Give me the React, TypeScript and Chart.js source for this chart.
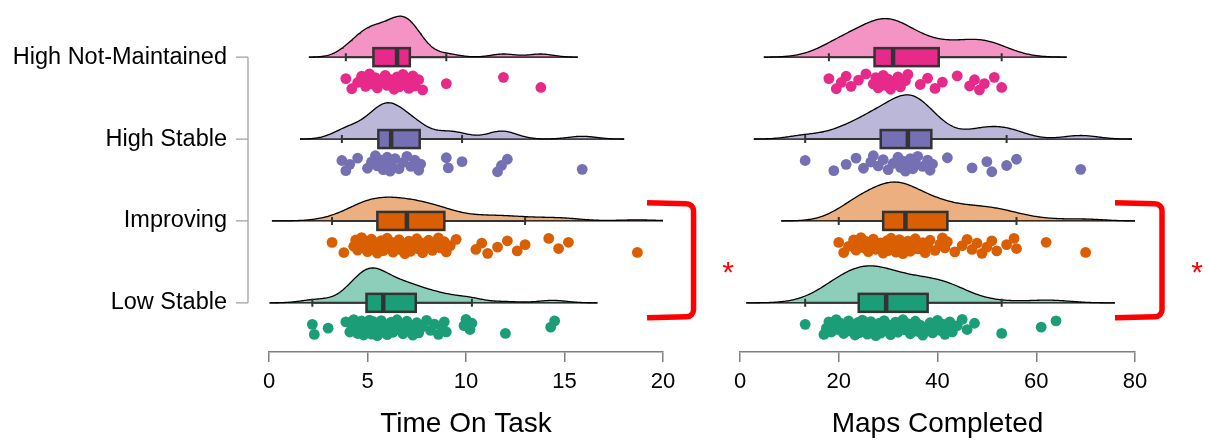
import React, { useEffect, useRef } from "react";
import { Chart, registerables } from "chart.js";

Chart.register(...registerables);

const FONT = "'Liberation Sans', Arial, sans-serif";

const groups = ["High Not-Maintained", "High Stable", "Improving", "Low Stable"];
const pointColors = ["#E7298A", "#7570B3", "#D95F02", "#1B9E77"];
const violinColors = ["#F394C4", "#BAB7D9", "#ECAF80", "#8DCEBB"];

const timeTicks = [0, 5, 10, 15, 20];
const mapsTicks = [0, 20, 40, 60, 80];

const timeHighNotMaintained = [3.9, 4.2, 4.5, 4.7, 4.9, 5.0, 5.1, 5.2, 5.4, 5.5, 5.7, 5.9, 6.0, 6.1, 6.35, 6.5, 6.5, 6.6, 6.7, 6.8, 6.9, 7.0, 7.1, 7.2, 7.3, 7.4, 7.6, 7.8, 9.0, 11.9, 13.8];
const timeHighStable = [3.7, 3.9, 4.1, 4.5, 5.0, 5.2, 5.4, 5.5, 5.6, 5.8, 5.9, 6.0, 6.1, 6.1, 6.15, 6.2, 6.4, 6.6, 6.8, 7.0, 7.2, 7.4, 7.6, 7.7, 9.0, 9.1, 9.8, 11.6, 11.8, 12.1, 15.9];
const timeImproving = [3.2, 3.8, 4.3, 4.4, 4.5, 4.6, 4.7, 4.8, 4.9, 5.0, 5.1, 5.2, 5.3, 5.4, 5.5, 5.6, 5.7, 5.8, 5.9, 6.0, 6.1, 6.2, 6.3, 6.5, 6.6, 6.7, 6.8, 6.9, 7.0, 7.1, 7.2, 7.3, 7.5, 7.6, 7.7, 7.8, 8.0, 8.1, 8.3, 8.5, 8.6, 8.7, 8.9, 9.0, 9.2, 9.5, 10.5, 10.8, 11.1, 11.6, 12.1, 12.6, 13.0, 14.2, 14.7, 15.2, 18.7];
const timeLowStable = [2.2, 2.3, 3.0, 3.9, 4.1, 4.2, 4.3, 4.4, 4.5, 4.5, 4.6, 4.7, 4.7, 4.8, 4.8, 4.9, 4.9, 5.0, 5.0, 5.1, 5.1, 5.2, 5.2, 5.3, 5.3, 5.4, 5.4, 5.5, 5.5, 5.6, 5.6, 5.7, 5.7, 5.8, 5.9, 6.0, 6.1, 6.2, 6.3, 6.4, 6.5, 6.6, 6.7, 6.8, 6.9, 7.0, 7.1, 7.2, 7.3, 7.4, 7.5, 7.6, 7.8, 8.0, 8.2, 8.4, 8.6, 8.8, 8.9, 9.0, 9.9, 10.0, 10.2, 10.3, 12.0, 14.3, 14.5];

const mapsHighNotMaintained = [18.0, 19.5, 20.5, 21.5, 22.5, 24.0, 25.5, 27.0, 27.5, 28.0, 28.5, 29.0, 29.5, 30.0, 30.5, 31.0, 32.0, 32.5, 33.5, 34.0, 36.5, 38.0, 39.5, 41.0, 44.0, 46.5, 47.5, 48.5, 49.5, 51.5, 53.0];
const mapsHighStable = [13.2, 19.0, 21.5, 23.5, 25.0, 26.5, 27.0, 28.0, 29.0, 30.0, 31.0, 32.0, 32.5, 33.0, 33.5, 34.0, 34.5, 35.0, 35.5, 36.0, 37.0, 38.0, 38.5, 39.0, 42.0, 47.0, 50.0, 51.0, 54.0, 56.0, 69.0];
const mapsImproving = [20.0, 21.0, 22.0, 23.0, 23.5, 24.0, 24.5, 25.0, 25.5, 26.0, 26.5, 27.0, 27.5, 28.5, 29.0, 29.5, 29.8, 30.0, 30.3, 30.6, 31.0, 31.3, 31.6, 32.0, 32.3, 32.5, 32.8, 33.0, 33.5, 34.0, 34.5, 35.0, 35.5, 36.0, 37.0, 37.5, 38.0, 38.5, 39.5, 40.5, 41.0, 41.5, 42.0, 43.5, 45.0, 46.0, 47.0, 48.0, 49.0, 50.0, 51.0, 52.0, 54.0, 55.5, 56.0, 62.0, 70.0];
const mapsLowStable = [13.2, 17.0, 17.5, 18.0, 18.5, 19.0, 19.5, 20.0, 20.5, 21.0, 21.5, 22.0, 22.5, 23.0, 23.3, 23.6, 23.9, 24.2, 24.5, 24.8, 25.2, 25.5, 25.8, 26.2, 26.5, 26.8, 27.2, 27.5, 27.8, 28.2, 28.5, 28.8, 29.2, 29.6, 30.0, 30.5, 31.0, 31.5, 32.0, 32.5, 33.0, 33.5, 34.0, 34.5, 35.0, 35.5, 36.0, 36.5, 37.0, 37.5, 38.5, 39.0, 39.5, 40.0, 40.5, 41.0, 41.5, 42.0, 42.5, 43.0, 44.0, 45.0, 46.0, 47.5, 53.0, 61.0, 64.0];

const BOX_HALF = 9; // px

function sortNum(a: number[]) {
  return [...a].sort((p, q) => p - q);
}
function quantile7(s: number[], p: number) {
  const h = (s.length - 1) * p;
  const lo = Math.floor(h);
  const hi = Math.ceil(h);
  return s[lo] + (h - lo) * (s[hi] - s[lo]);
}
function boxStats(vals: number[]) {
  const s = sortNum(vals);
  const q1 = quantile7(s, 0.25);
  const med = quantile7(s, 0.5);
  const q3 = quantile7(s, 0.75);
  const iqr = q3 - q1;
  const lo = s.find((v) => v >= q1 - 1.5 * iqr) as number;
  const hi = [...s].reverse().find((v) => v <= q3 + 1.5 * iqr) as number;
  return { q1, med, q3, lo, hi };
}
function bandwidth(vals: number[]) {
  const n = vals.length;
  const mean = vals.reduce((a, b) => a + b, 0) / n;
  const sd = Math.sqrt(vals.reduce((a, b) => a + (b - mean) * (b - mean), 0) / (n - 1));
  const s = sortNum(vals);
  const iqr = quantile7(s, 0.75) - quantile7(s, 0.25);
  let lo = Math.min(sd, iqr / 1.34);
  if (!(lo > 0)) lo = sd || 1;
  return 0.9 * lo * Math.pow(n, -0.2);
}
function density(vals: number[], steps = 300) {
  const bw = bandwidth(vals);
  const from = Math.min(...vals) - 3 * bw;
  const to = Math.max(...vals) + 3 * bw;
  const pts: { x: number; d: number }[] = [];
  for (let i = 0; i <= steps; i++) {
    const x = from + ((to - from) * i) / steps;
    let d = 0;
    for (const v of vals) {
      const u = (x - v) / bw;
      d += Math.exp(-0.5 * u * u);
    }
    d /= vals.length * bw * Math.sqrt(2 * Math.PI);
    pts.push({ x, d });
  }
  return pts;
}

type Panel = {
  key: string;
  series: number[][];
  xMax: number;
  ticks: number[];
  title: string;
  showY: boolean;
  padLeft: number;
  padRight: number;
  violinHeight: number;
  bracket: { x0: number; x1: number; y0: number; y1: number; starX: number; starY: number };
};

function buildConfig(panel: Panel): any {
  const dens = panel.series.map((v) => density(v));
  const maxD = Math.max(...dens.flatMap((g) => g.map((p) => p.d)));
  const datasets: any[] = [];
  panel.series.forEach((vals, gi) => {
    const base = gi + 1;
    const sorted = sortNum(vals);
    datasets.push({
      data: sorted.map((v, i) => ({ x: v, y: base + 0.2 + 0.2 * ((i * 0.618034 + 0.31) % 1) })),
      pointRadius: 5.4,
      pointBackgroundColor: pointColors[gi],
      pointBorderWidth: 0,
      showLine: false,
      order: 0,
    });
    const d = dens[gi];
    datasets.push({
      data: [
        { x: d[0].x, y: base },
        { x: d[d.length - 1].x, y: base },
      ],
      showLine: true,
      borderColor: "#000",
      borderWidth: 1.2,
      pointRadius: 0,
      order: 1,
    });
    datasets.push({
      data: d.map((p) => ({ x: p.x, y: base - (p.d / maxD) * panel.violinHeight })),
      showLine: true,
      fill: { value: base },
      backgroundColor: violinColors[gi],
      borderColor: "#000",
      borderWidth: 1.3,
      pointRadius: 0,
      tension: 0,
      order: 2,
    });
  });

  const overlay = {
    id: "overlay_" + panel.key,
    afterDatasetsDraw(chart: any) {
      const xs = chart.scales.x;
      const ys = chart.scales.y;
      const ctx = chart.ctx;
      ctx.save();
      panel.series.forEach((vals, gi) => {
        const st = boxStats(vals);
        const yc = ys.getPixelForValue(gi + 1);
        const xlo = xs.getPixelForValue(st.lo);
        const xq1 = xs.getPixelForValue(st.q1);
        const xmd = xs.getPixelForValue(st.med);
        const xq3 = xs.getPixelForValue(st.q3);
        const xhi = xs.getPixelForValue(st.hi);
        ctx.strokeStyle = "#333333";
        ctx.lineWidth = 2;
        ctx.beginPath();
        ctx.moveTo(xlo, yc);
        ctx.lineTo(xq1, yc);
        ctx.moveTo(xq3, yc);
        ctx.lineTo(xhi, yc);
        ctx.moveTo(xlo, yc - 4);
        ctx.lineTo(xlo, yc + 4);
        ctx.moveTo(xhi, yc - 4);
        ctx.lineTo(xhi, yc + 4);
        ctx.stroke();
        ctx.fillStyle = pointColors[gi];
        ctx.fillRect(xq1, yc - BOX_HALF, xq3 - xq1, BOX_HALF * 2);
        ctx.lineWidth = 2.5;
        ctx.strokeRect(xq1, yc - BOX_HALF, xq3 - xq1, BOX_HALF * 2);
        ctx.lineWidth = 4.5;
        ctx.beginPath();
        ctx.moveTo(xmd, yc - BOX_HALF);
        ctx.lineTo(xmd, yc + BOX_HALF);
        ctx.stroke();
      });
      if (panel.showY) {
        const ax = chart.chartArea.left - 21;
        ctx.strokeStyle = "#a0a0a0";
        ctx.lineWidth = 1.3;
        ctx.beginPath();
        ctx.moveTo(ax, ys.getPixelForValue(1));
        ctx.lineTo(ax, ys.getPixelForValue(groups.length));
        groups.forEach((_, i) => {
          const y = ys.getPixelForValue(i + 1);
          ctx.moveTo(ax - 12, y);
          ctx.lineTo(ax, y);
        });
        ctx.stroke();
      }
      const b = panel.bracket;
      const bx0 = xs.getPixelForValue(b.x0);
      const bx1 = xs.getPixelForValue(b.x1);
      const by0 = ys.getPixelForValue(b.y0);
      const by1 = ys.getPixelForValue(b.y1);
      const r = 7;
      ctx.strokeStyle = "#FF0000";
      ctx.lineWidth = 5.5;
      ctx.lineJoin = "round";
      ctx.beginPath();
      ctx.moveTo(bx0, by0 - 1);
      ctx.lineTo(bx1 - r, by0);
      ctx.arcTo(bx1, by0, bx1, by0 + r, r);
      ctx.lineTo(bx1, by1 - r);
      ctx.arcTo(bx1, by1, bx1 - r, by1, r);
      ctx.lineTo(bx0, by1 + 1);
      ctx.stroke();
      ctx.fillStyle = "#FF0000";
      ctx.font = "30px " + FONT;
      ctx.textAlign = "center";
      ctx.textBaseline = "middle";
      ctx.fillText("*", xs.getPixelForValue(b.starX), ys.getPixelForValue(b.starY));
      ctx.restore();
    },
  };

  const yScale: any = {
    type: "linear",
    min: 0.4,
    max: 4.6,
    reverse: true,
    display: panel.showY,
    afterBuildTicks: (s: any) => {
      s.ticks = groups.map((_, i) => ({ value: i + 1 }));
    },
    ticks: {
      callback: (v: any) => groups[Number(v) - 1] ?? "",
      color: "#000",
      font: { family: FONT, size: 23.5 },
      padding: 42,
    },
    grid: { display: false, drawTicks: false },
    border: { display: false },
  };
  if (panel.showY) {
    yScale.afterFit = (s: any) => {
      s.width = 269;
      s.paddingTop = 0;
      s.paddingBottom = 0;
    };
  }

  return {
    type: "scatter",
    data: { datasets },
    plugins: [overlay],
    options: {
      responsive: false,
      animation: false,
      events: [],
      layout: { padding: { left: panel.padLeft, right: panel.padRight, top: 8, bottom: 0 } },
      plugins: { legend: { display: false }, tooltip: { enabled: false } },
      scales: {
        x: {
          type: "linear",
          min: 0,
          max: panel.xMax,
          afterBuildTicks: (s: any) => {
            s.ticks = panel.ticks.map((v) => ({ value: v }));
          },
          afterFit: (s: any) => {
            s.height = 91;
          },
          ticks: { color: "#000", font: { family: FONT, size: 22 }, padding: 7, maxRotation: 0, autoSkip: false },
          grid: { display: true, drawOnChartArea: false, drawTicks: true, tickLength: 10, color: "#7f7f7f", lineWidth: 1.5 },
          border: { display: true, color: "#7f7f7f", width: 1.5 },
          title: { display: true, text: panel.title, color: "#000", font: { family: FONT, size: 28 }, padding: { top: 0, bottom: 2 } },
        },
        y: yScale,
      },
    },
  };
}

const panels: { panel: Panel; left: number; width: number }[] = [
  {
    left: 0,
    width: 745,
    panel: {
      key: "time",
      series: [timeHighNotMaintained, timeHighStable, timeImproving, timeLowStable],
      xMax: 20,
      ticks: timeTicks,
      title: "Time On Task",
      showY: true,
      padLeft: 0,
      padRight: 82,
      violinHeight: 0.5,
      bracket: { x0: 19.19, x1: 21.55, y0: 2.79, y1: 4.17, starX: 23.3, starY: 3.645 },
    },
  },
  {
    left: 700,
    width: 508,
    panel: {
      key: "maps",
      series: [mapsHighNotMaintained, mapsHighStable, mapsImproving, mapsLowStable],
      xMax: 80,
      ticks: mapsTicks,
      title: "Maps Completed",
      showY: false,
      padLeft: 40,
      padRight: 73,
      violinHeight: 0.54,
      bracket: { x0: 75.95, x1: 85.47, y0: 2.79, y1: 4.17, starX: 92.56, starY: 3.645 },
    },
  },
];

function PanelChart({ panel, left, width }: { panel: Panel; left: number; width: number }) {
  const ref = useRef<HTMLCanvasElement | null>(null);
  useEffect(() => {
    if (!ref.current) return;
    const chart = new Chart(ref.current, buildConfig(panel));
    return () => chart.destroy();
  }, [panel]);
  return (
    <canvas
      ref={ref}
      width={width}
      height={443}
      style={{ position: "absolute", left, top: 0, width, height: 443 }}
    />
  );
}

export default function App() {
  return (
    <div style={{ position: "absolute", left: 0, top: 0, width: 1208, height: 443, background: "#fff" }}>
      {panels.map((p) => (
        <PanelChart key={p.panel.key} panel={p.panel} left={p.left} width={p.width} />
      ))}
    </div>
  );
}
